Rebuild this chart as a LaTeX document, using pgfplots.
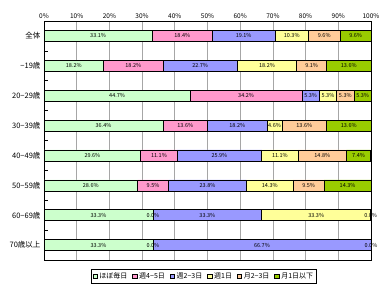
\documentclass[border=0pt]{standalone}
\usepackage{pgfplots}
\pgfplotsset{compat=1.18}
\usepackage{pgfplotstable}
\usepackage{fontspec}
\setmainfont{Noto Sans CJK JP}
\definecolor{c1}{HTML}{CCFFCC}
\definecolor{c2}{HTML}{FF99CC}
\definecolor{c3}{HTML}{9999FF}
\definecolor{c4}{HTML}{FFFF99}
\definecolor{c5}{HTML}{FFCC99}
\definecolor{c6}{HTML}{99CC00}
\pgfplotstableread{
row a b c d e f
0 33.1 18.4 19.1 10.3 9.6 9.6
1 18.2 18.2 22.7 18.2 9.1 13.6
2 44.7 34.2 5.3 5.3 5.3 5.3
3 36.4 13.6 18.2 4.6 13.6 13.6
4 29.6 11.1 25.9 11.1 14.8 7.4
5 28.6 9.5 23.8 14.3 9.5 14.3
6 33.3 0.0 33.3 33.3 0.0 0.0
7 33.3 0.0 66.7 0.0 0.0 0.0
}\data
\pgfplotstableread{
x y v
16.55 0 33.1
42.3 0 18.4
61.05 0 19.1
75.75 0 10.3
85.7 0 9.6
95.3 0 9.6
9.1 1 18.2
27.3 1 18.2
47.75 1 22.7
68.2 1 18.2
81.85 1 9.1
93.2 1 13.6
22.35 2 44.7
61.8 2 34.2
81.55 2 5.3
86.85 2 5.3
92.15 2 5.3
97.45 2 5.3
18.2 3 36.4
43.2 3 13.6
59.1 3 18.2
70.5 3 4.6
79.6 3 13.6
93.2 3 13.6
14.8 4 29.6
35.15 4 11.1
53.65 4 25.9
72.15 4 11.1
85.1 4 14.8
96.2 4 7.4
14.3 5 28.6
33.35 5 9.5
50.0 5 23.8
69.05 5 14.3
80.95 5 9.5
92.85 5 14.3
16.65 6 33.3
33.3 6 0.0
49.95 6 33.3
83.25 6 33.3
99.9 6 0.0
16.65 7 33.3
33.3 7 0.0
66.65 7 66.7
100.0 7 0.0
}\labels
\begin{document}
\begin{tikzpicture}
\pgfplotsset{
  common/.style={
    scale only axis, width=327pt, height=239pt,
    at={(44pt,29pt)}, anchor=south west,
    xmin=0, xmax=100, ymin=-0.5, ymax=7.5, y dir=reverse,
    /pgf/number format/assume math mode=true,
  }
}
\begin{axis}[common,
  xbar stacked, bar width=11pt,
  axis line style={black, line width=0.6pt},
  xtick={0,10,...,100},
  xticklabel pos=top,
  xticklabel={\pgfmathprintnumber{\tick}\%},
  xmajorgrids, major grid style={gray!70, line width=0.6pt},
  major x tick style={draw=none},
  ytick={0,...,7},
  yticklabels={全体,−19歳,20−29歳,30−39歳,40−49歳,50−59歳,60−69歳,70歳以上},
  ytick pos=left,
  major y tick style={draw=none},
  minor ytick={0.5,1.5,...,6.5},
  minor y tick style={black, line width=0.6pt},
  minor tick length=4pt, tick align=inside,
  x tick label style={font=\fontsize{6.5}{7}\selectfont, yshift=-1pt},
  y tick label style={font=\fontsize{7.5}{8}\selectfont},
  legend style={at={(0.489,-0.068)}, anchor=center, draw=black, line width=0.6pt,
    font=\fontsize{7}{8}\selectfont, inner sep=1.5pt,
    /tikz/every even column/.append style={column sep=3pt}},
  legend columns=6,
  legend image code/.code={\draw[#1, draw=black, line width=0.4pt] (0pt,-2.2pt) rectangle (4.4pt,2.2pt);},
  every axis plot/.append style={draw=black, line width=0.6pt},
]
\addplot[fill=c1] table[x=a, y=row] {\data};
\addplot[fill=c2] table[x=b, y=row] {\data};
\addplot[fill=c3] table[x=c, y=row] {\data};
\addplot[fill=c4] table[x=d, y=row] {\data};
\addplot[fill=c5] table[x=e, y=row] {\data};
\addplot[fill=c6] table[x=f, y=row] {\data};
\legend{ほぼ毎日,週4−5日,週2−3日,週1日,月2−3日,月1日以下}
\end{axis}
\begin{axis}[common, hide axis]
\addplot[only marks, mark=none, point meta=explicit,
  nodes near coords={\pgfmathprintnumber[fixed,fixed zerofill,precision=1]{\pgfplotspointmeta}\%},
  nodes near coords style={anchor=center, font=\fontsize{5.5}{6}\selectfont, inner sep=0pt}]
  table[x=x, y=y, meta=v] {\labels};
\end{axis}
\pgfresetboundingbox
\useasboundingbox (0,0) rectangle (384pt,289pt);
\end{tikzpicture}
\end{document}
